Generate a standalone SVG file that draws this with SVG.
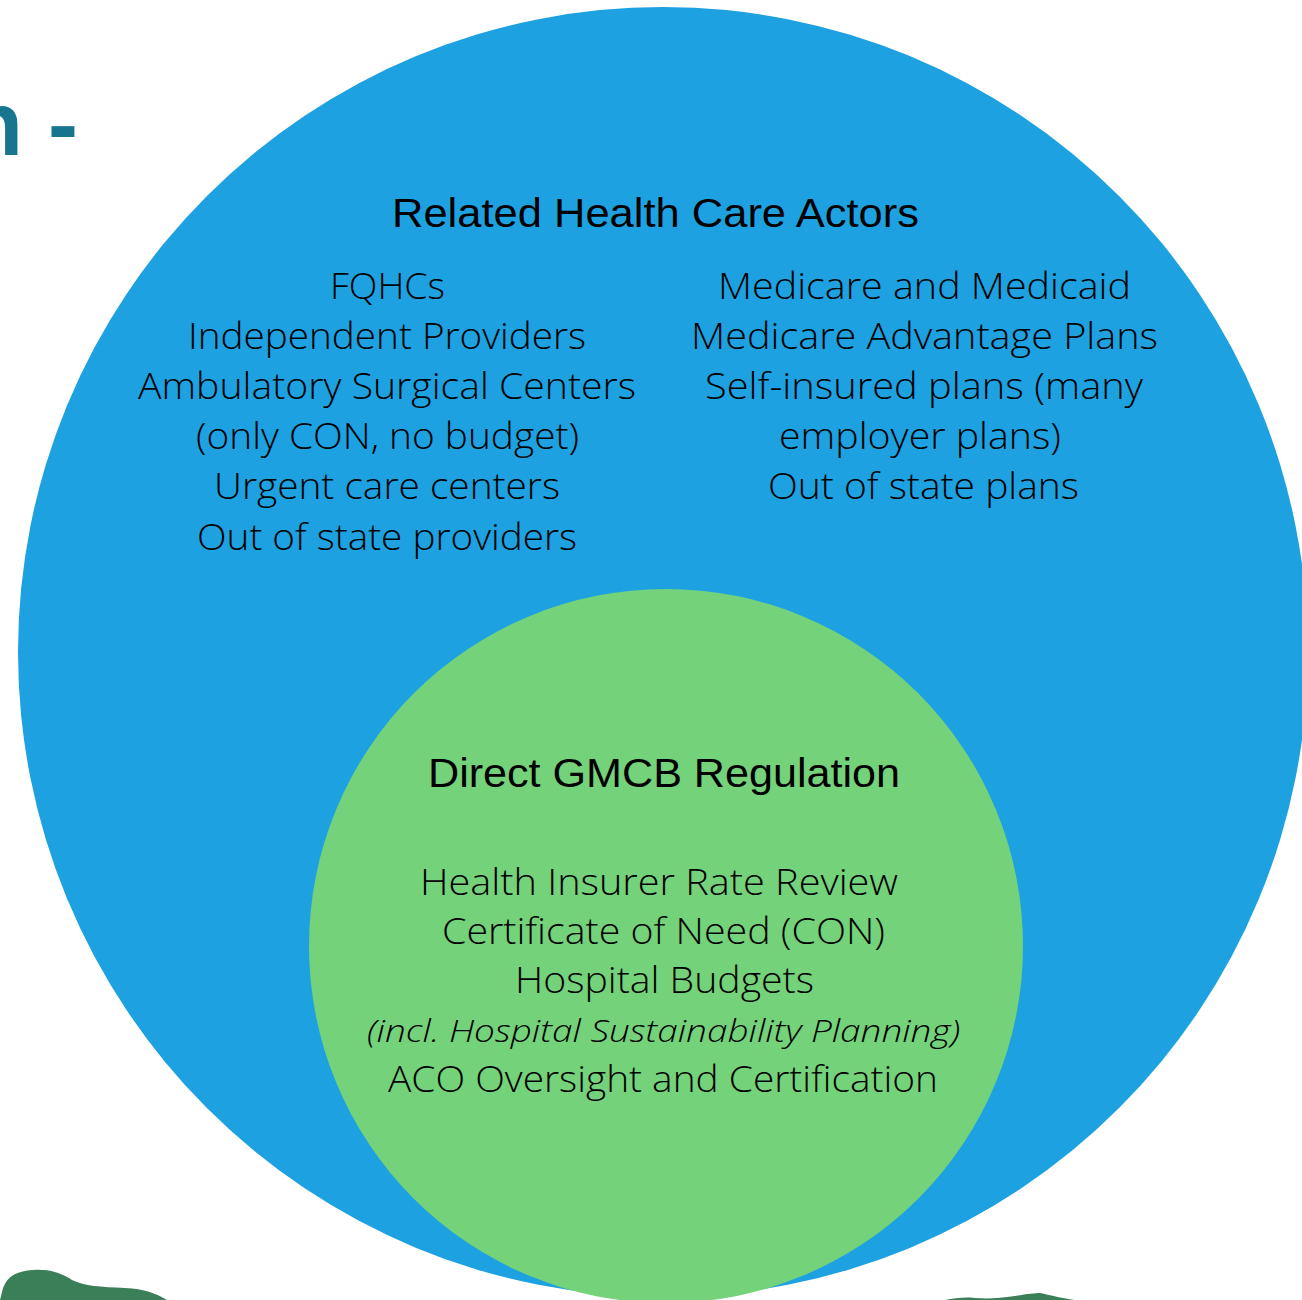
<svg xmlns="http://www.w3.org/2000/svg" width="1302" height="1300" viewBox="0 0 1302 1300">
<style>
.title{font-family:"Liberation Sans",Arial,sans-serif;font-size:40px;fill:#000;}
.body{font-family:"Open Sans","Liberation Sans",sans-serif;font-weight:300;font-size:37px;fill:#000;}
.ital{font-family:"Open Sans","Liberation Sans",sans-serif;font-weight:300;font-style:italic;font-size:32px;fill:#000;}
.head{font-family:"Liberation Sans",Arial,sans-serif;font-weight:bold;font-size:90px;fill:#17758F;}
.hill{fill:#3A7F57;}
</style>
<rect width="1302" height="1300" fill="#FFFFFF"/>
<text class="head" x="-32" y="155">n -</text>
<g id="related-actors">
<circle cx="663" cy="652" r="645" fill="#1DA1E1"/>
<text class="title" x="392" y="227" textLength="527" lengthAdjust="spacingAndGlyphs">Related Health Care Actors</text>
<text class="body" x="330" y="299" textLength="115" lengthAdjust="spacingAndGlyphs">FQHCs</text>
<text class="body" x="188" y="349" textLength="398" lengthAdjust="spacingAndGlyphs">Independent Providers</text>
<text class="body" x="138" y="399" textLength="498" lengthAdjust="spacingAndGlyphs">Ambulatory Surgical Centers</text>
<text class="body" x="196" y="449" textLength="383" lengthAdjust="spacingAndGlyphs">(only CON, no budget)</text>
<text class="body" x="214" y="499" textLength="346" lengthAdjust="spacingAndGlyphs">Urgent care centers</text>
<text class="body" x="197" y="550" textLength="380" lengthAdjust="spacingAndGlyphs">Out of state providers</text>
<text class="body" x="718" y="299" textLength="413" lengthAdjust="spacingAndGlyphs">Medicare and Medicaid</text>
<text class="body" x="691" y="349" textLength="467" lengthAdjust="spacingAndGlyphs">Medicare Advantage Plans</text>
<text class="body" x="705" y="399" textLength="438" lengthAdjust="spacingAndGlyphs">Self-insured plans (many</text>
<text class="body" x="779" y="449" textLength="282" lengthAdjust="spacingAndGlyphs">employer plans)</text>
<text class="body" x="768" y="499" textLength="311" lengthAdjust="spacingAndGlyphs">Out of state plans</text>
</g>
<g id="direct-regulation">
<circle cx="666" cy="946" r="357" fill="#74D27A"/>
<text class="title" x="428" y="787" textLength="472" lengthAdjust="spacingAndGlyphs">Direct GMCB Regulation</text>
<text class="body" x="420" y="895" textLength="478" lengthAdjust="spacingAndGlyphs">Health Insurer Rate Review</text>
<text class="body" x="442" y="944" textLength="443" lengthAdjust="spacingAndGlyphs">Certificate of Need (CON)</text>
<text class="body" x="515" y="993" textLength="299" lengthAdjust="spacingAndGlyphs">Hospital Budgets</text>
<text class="ital" x="367" y="1042" textLength="593" lengthAdjust="spacingAndGlyphs">(incl. Hospital Sustainability Planning)</text>
<text class="body" x="388" y="1092" textLength="550" lengthAdjust="spacingAndGlyphs">ACO Oversight and Certification</text>
</g>
<g id="connectors"></g>
<path class="hill" d="M0,1300 L3,1288 C8,1275 18,1271 33,1270 C48,1269 60,1272 72,1280 C85,1286 100,1287 125,1288 C145,1289 155,1293 167,1300 Z"/>
<path class="hill" d="M945,1300 C955,1298 965,1297 975,1298 C990,1299 1000,1298 1015,1296 C1028,1294 1035,1293 1040,1293 C1050,1295 1060,1298 1075,1300 Z"/>
</svg>
